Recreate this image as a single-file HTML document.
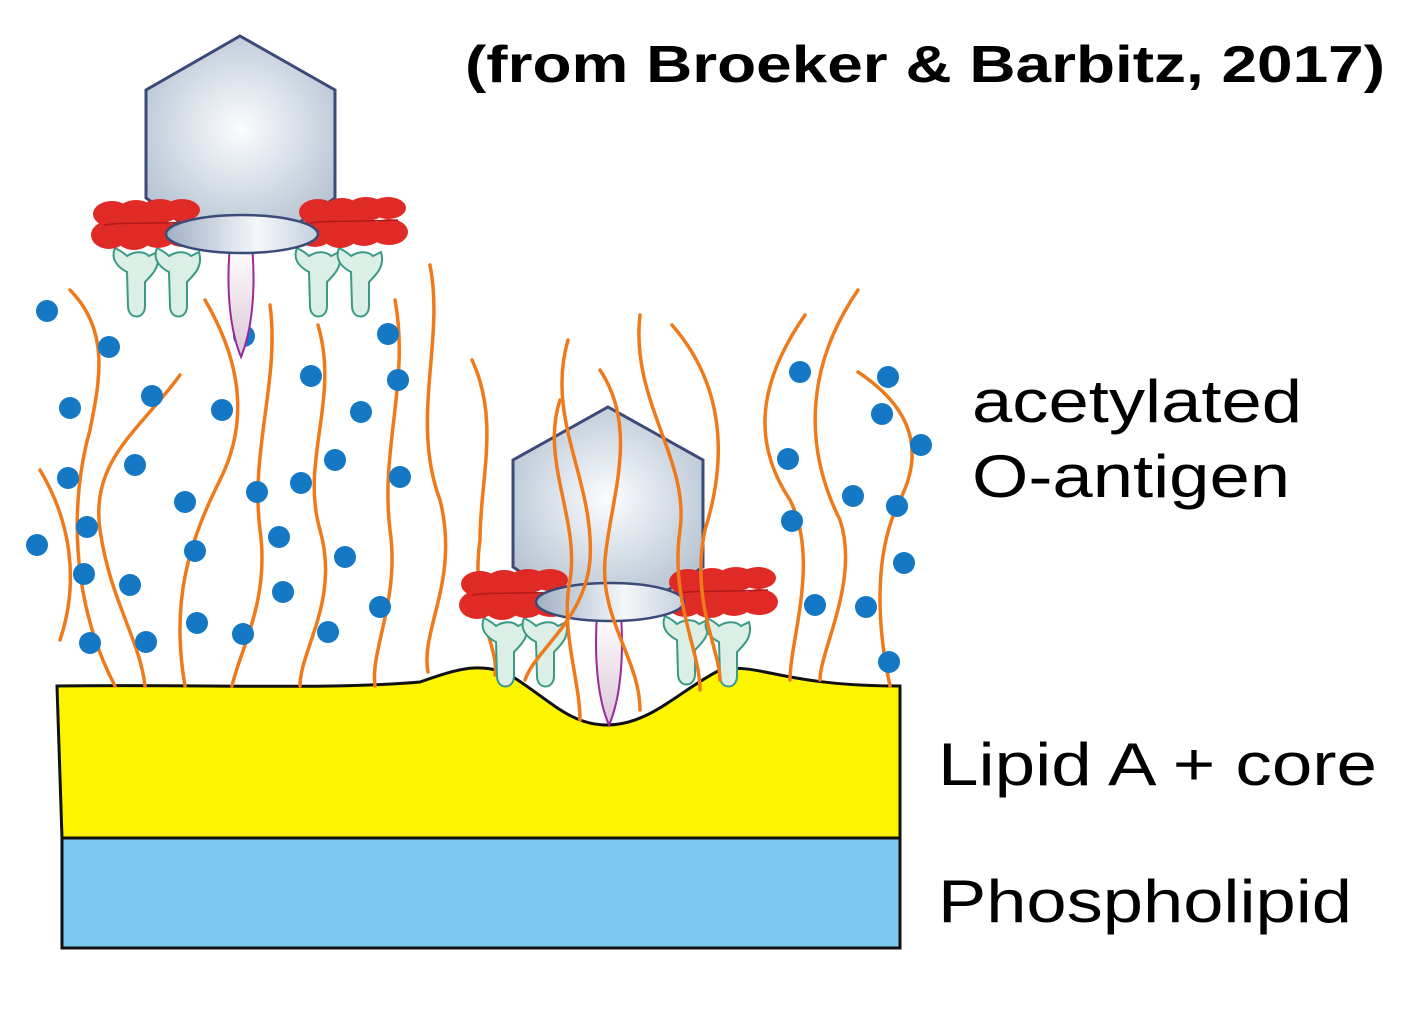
<!DOCTYPE html>
<html><head><meta charset="utf-8"><style>html,body{margin:0;padding:0;background:#fff}svg{display:block}</style></head>
<body>
<svg width="1416" height="1022" viewBox="0 0 1416 1022" xmlns="http://www.w3.org/2000/svg">
<defs>
<radialGradient id="hg" cx="0.5" cy="0.5" r="0.6"><stop offset="0" stop-color="#fbfdff"/><stop offset="1" stop-color="#b7c4d2"/></radialGradient>
<linearGradient id="bg" x1="0" x2="1"><stop offset="0" stop-color="#9fb0c4"/><stop offset="0.6" stop-color="#f4f7fa"/><stop offset="1" stop-color="#c4d0dc"/></linearGradient>
<linearGradient id="tg" y1="0" y2="1" x1="0" x2="0"><stop offset="0" stop-color="#fff"/><stop offset="1" stop-color="#dcc6d8"/></linearGradient>
<g id="red" fill="#e02a25">
<ellipse cx="20" cy="14" rx="19" ry="13"/><ellipse cx="44" cy="13" rx="19" ry="13"/><ellipse cx="68" cy="11" rx="19" ry="12"/><ellipse cx="90" cy="10" rx="18" ry="11"/>
<ellipse cx="17" cy="35" rx="18" ry="14"/><ellipse cx="42" cy="35" rx="19" ry="15"/><ellipse cx="66" cy="34" rx="19" ry="14"/><ellipse cx="91" cy="34" rx="19" ry="13"/>
<path d="M12,25 C30,22 60,24 100,22" stroke="#b01a18" stroke-width="1.5" fill="none"/>
</g>
<g id="tee">
<path d="M2,0 C-3,12 6,20 14,24 L15,58 C15,72 32,72 32,58 L32,34 C40,26 48,18 44,4 L36,8 C30,2 20,4 14,8 C10,4 6,2 2,0Z" fill="#dcefe6" stroke="#3a9a86" stroke-width="2"/>
</g>
</defs>

<rect x="62" y="838" width="838" height="110" fill="#7cc8f0" stroke="#111" stroke-width="3"/>
<path d="M57,686 C200,684 330,690 420,682 C460,668 480,662 510,675 C550,700 570,725 607,725 C650,725 680,690 720,670 C760,662 780,686 900,686 L900,838 L62,838 Z" fill="#fdf500" stroke="#111" stroke-width="3"/>
<line x1="62" y1="838" x2="900" y2="838" stroke="#111" stroke-width="3"/>

<g fill="none" stroke="#ee7a1c" stroke-width="3.5" stroke-linecap="round">
<path d="M70,290 C110,330 100,380 90,430 C70,500 70,600 115,686"/>
<path d="M180,375 C140,430 90,460 100,530 C110,600 140,640 145,686"/>
<path d="M205,300 C240,360 250,420 220,480 C190,540 170,600 185,686"/>
<path d="M270,305 C280,380 250,450 260,530 C270,600 240,650 232,686"/>
<path d="M318,325 C340,400 300,460 320,530 C340,600 300,650 300,686"/>
<path d="M395,300 C410,380 380,450 390,530 C400,600 370,650 375,686"/>
<path d="M430,265 C445,340 410,420 440,500 C460,580 420,630 428,672"/>
<path d="M472,360 C500,420 480,480 480,540 C470,610 500,650 495,675"/>
<path d="M805,315 C760,380 750,440 790,500 C820,560 790,640 790,680"/>
<path d="M858,290 C810,360 800,440 840,520 C860,580 820,650 820,680"/>
<path d="M858,372 C900,400 930,440 900,500 C870,560 880,640 890,686"/>
<path d="M40,470 C70,520 80,580 60,640"/>
</g>

<g fill="#1478c4">
<circle cx="47" cy="311" r="11"/><circle cx="109" cy="347" r="11"/><circle cx="152" cy="396" r="11"/><circle cx="70" cy="408" r="11"/><circle cx="222" cy="410" r="11"/><circle cx="311" cy="376" r="11"/><circle cx="388" cy="334" r="11"/><circle cx="398" cy="380" r="11"/><circle cx="361" cy="412" r="11"/><circle cx="135" cy="465" r="11"/><circle cx="68" cy="478" r="11"/><circle cx="185" cy="502" r="11"/><circle cx="257" cy="492" r="11"/><circle cx="301" cy="483" r="11"/><circle cx="335" cy="460" r="11"/><circle cx="400" cy="477" r="11"/><circle cx="87" cy="527" r="11"/><circle cx="37" cy="545" r="11"/><circle cx="195" cy="551" r="11"/><circle cx="279" cy="537" r="11"/><circle cx="345" cy="557" r="11"/><circle cx="84" cy="574" r="11"/><circle cx="130" cy="585" r="11"/><circle cx="283" cy="592" r="11"/><circle cx="380" cy="607" r="11"/><circle cx="197" cy="623" r="11"/><circle cx="243" cy="634" r="11"/><circle cx="328" cy="632" r="11"/><circle cx="90" cy="643" r="11"/><circle cx="146" cy="642" r="11"/><circle cx="244" cy="336" r="11"/>
<circle cx="800" cy="372" r="11"/><circle cx="888" cy="377" r="11"/><circle cx="882" cy="414" r="11"/><circle cx="921" cy="445" r="11"/><circle cx="788" cy="459" r="11"/><circle cx="853" cy="496" r="11"/><circle cx="897" cy="506" r="11"/><circle cx="792" cy="521" r="11"/><circle cx="904" cy="563" r="11"/><circle cx="815" cy="605" r="11"/><circle cx="866" cy="607" r="11"/><circle cx="889" cy="662" r="11"/>
</g>

<g>
<polygon points="240,36 335,90 335,198 300,222 180,222 146,198 146,90" fill="url(#hg)" stroke="#3b4a78" stroke-width="3"/>
<path d="M230,245 C226,290 230,330 241,357 C252,330 256,290 252,245Z" fill="url(#tg)" stroke="#9a2a9a" stroke-width="2"/>
<use href="#tee" x="113" y="248"/><use href="#tee" x="155" y="248"/>
<use href="#tee" x="295" y="248"/><use href="#tee" x="337" y="248"/>
<use href="#red" x="92" y="200"/><use href="#red" x="298" y="198"/>
<ellipse cx="242" cy="234" rx="76" ry="19" fill="url(#bg)" stroke="#3b4a78" stroke-width="2.5"/>
</g>

<g>
<polygon points="608,407 703,460 703,567 668,590 548,590 513,567 513,460" fill="url(#hg)" stroke="#3b4a78" stroke-width="3"/>
<path d="M597,614 C594,660 598,700 609,725 C620,700 624,660 621,614Z" fill="url(#tg)" stroke="#9a2a9a" stroke-width="2"/>
<use href="#tee" x="482" y="618"/><use href="#tee" x="522" y="618"/>
<use href="#tee" x="663" y="616"/><use href="#tee" x="705" y="618"/>
<use href="#red" x="460" y="570"/><use href="#red" x="668" y="568"/>
<ellipse cx="610" cy="602" rx="74" ry="19" fill="url(#bg)" stroke="#3b4a78" stroke-width="2.5"/>
<g fill="none" stroke="#ee7a1c" stroke-width="3.5" stroke-linecap="round">
<path d="M600,370 C640,430 610,500 605,560 C600,620 640,660 640,710"/>
<path d="M568,340 C545,420 595,480 590,560 C585,620 535,650 525,680"/>
<path d="M560,400 C540,460 580,520 570,580 C560,630 580,680 580,720"/>
<path d="M640,315 C630,400 690,460 680,530 C670,600 700,650 700,690"/>
<path d="M672,325 C720,380 730,450 705,530 C690,600 720,650 720,680"/>
</g>
</g>

<g font-family="Liberation Sans, Arial, sans-serif" fill="#000">
<text x="465" y="82" font-size="52" font-weight="bold" textLength="920" lengthAdjust="spacingAndGlyphs">(from Broeker &amp; Barbitz, 2017)</text>
<text x="972" y="422" font-size="60" textLength="330" lengthAdjust="spacingAndGlyphs">acetylated</text>
<text x="972" y="497" font-size="60" textLength="318" lengthAdjust="spacingAndGlyphs">O-antigen</text>
<text x="938" y="785" font-size="60" textLength="439" lengthAdjust="spacingAndGlyphs">Lipid A + core</text>
<text x="938" y="922" font-size="60" textLength="414" lengthAdjust="spacingAndGlyphs">Phospholipid</text>
</g>
</svg>
</body></html>
